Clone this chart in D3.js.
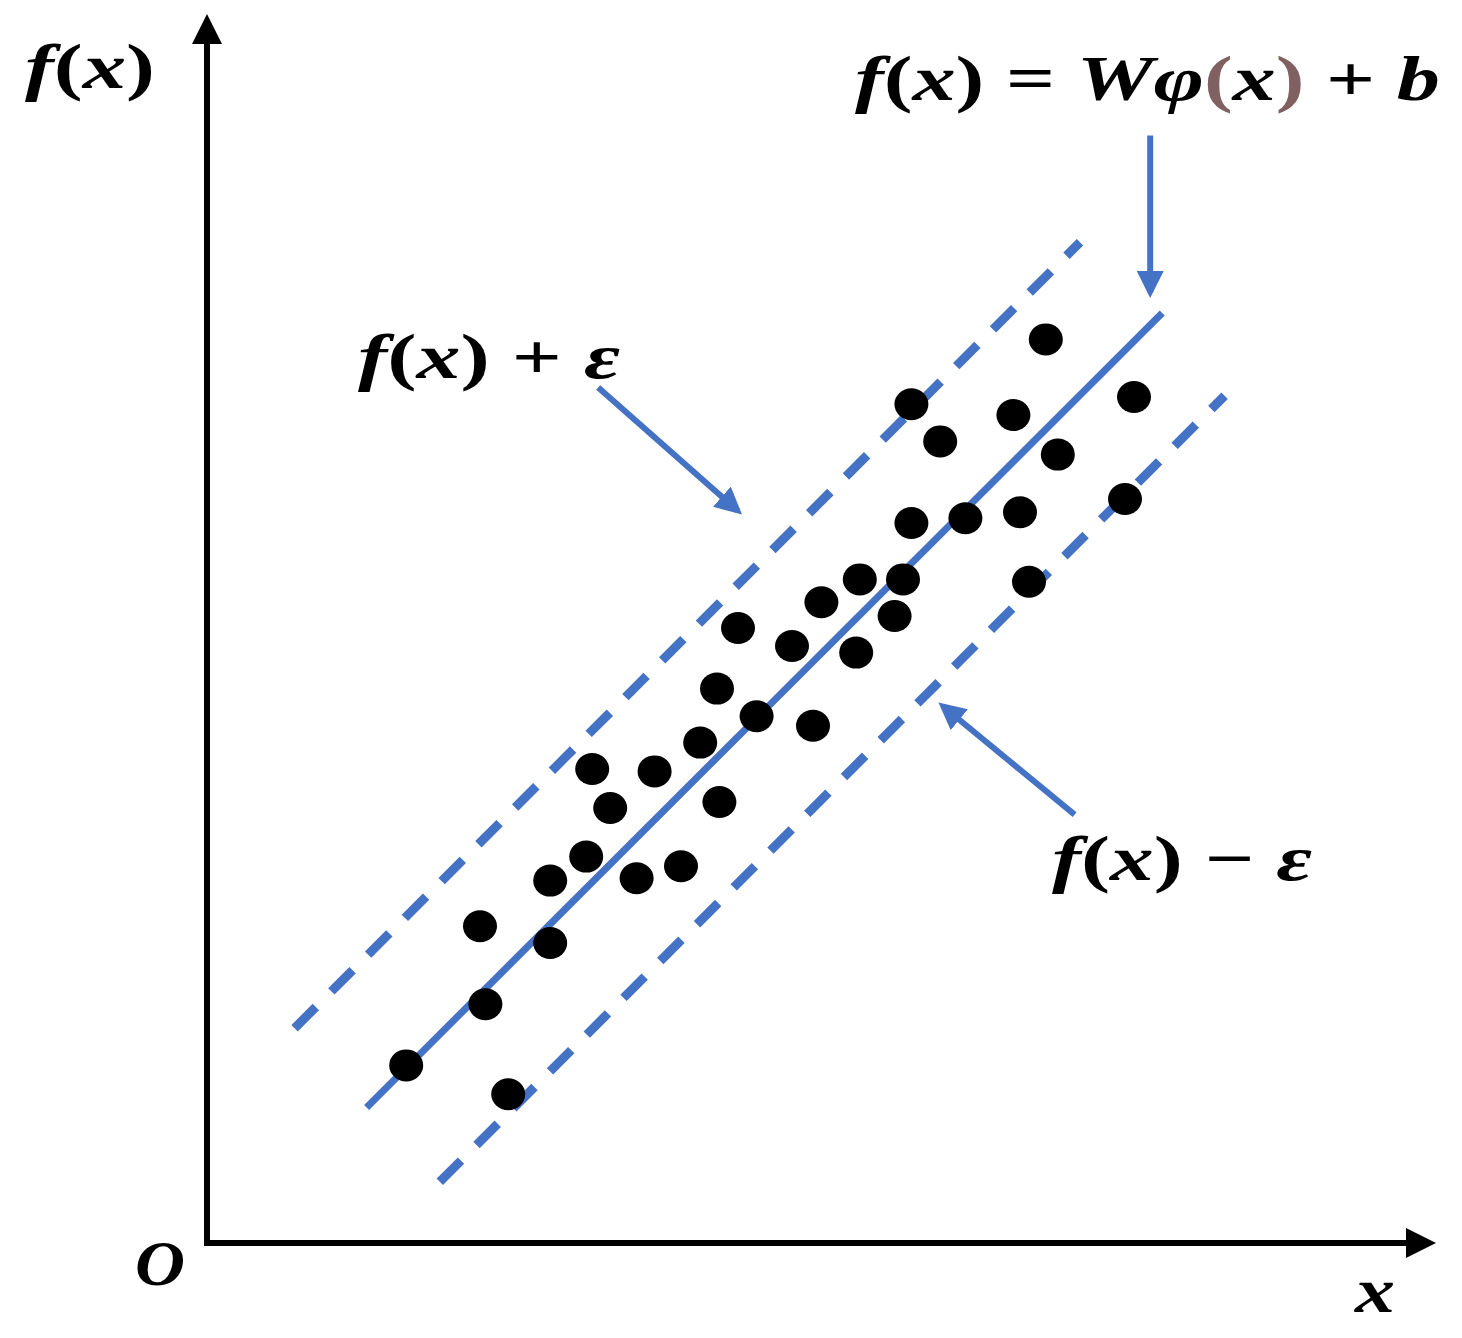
<!DOCTYPE html>
<html><head><meta charset="utf-8">
<script src="https://cdn.jsdelivr.net/npm/d3@7"></script>
<style>body{margin:0;background:#fff}</style></head>
<body><div id="chart"></div>
<script>
// sample points (data units 0..100)
const pointsX = [16.6,22.75,23.2,25.1,28.6,28.6,31.6,32.1,33.6,35.8,37.3,39.5,41.1,42.5,42.7,44.25,45.8,48.75,50.5,51.2,54.1,54.4,57.3,58,58.7,58.7,61.1,63.2,67.2,67.75,68.5,69.9,70.9,76.5,77.25];
const pointsY = [14.8,26.4,19.9,12.4,30.2,25,32.2,39.5,36.25,30.4,39.3,31.4,41.7,46.2,36.75,51.25,43.9,49.75,43.1,53.4,49.2,55.3,52.25,55.3,69.9,60,66.8,60.4,69,60.9,55.1,75.3,65.7,62,70.5];
const fitLine = [[13.3,11.3],[79.6,77.5]];
const upperLine = [[7.3,17.9],[72.75,83.4]];
const lowerLine = [[19.4,5.1],[84.8,70.6]];
const arrows = [[[78.6,92.3],[78.6,79.2]],[[32.6,71.3],[44.25,61]],[[72.3,35.7],[61.3,44.75]]];

const W = 1462, H = 1338, blue = '#4472C4';
const x = d3.scaleLinear().domain([0,100]).range([207,1407]);
const y = d3.scaleLinear().domain([0,100]).range([1243,43]);

const svg = d3.select('#chart').append('svg').attr('width',W).attr('height',H);
const defs = svg.append('defs');
defs.append('marker').attr('id','ah').attr('viewBox','0 0 10 10').attr('refX',8).attr('refY',5)
  .attr('markerWidth',4.5).attr('markerHeight',4.5).attr('orient','auto')
  .append('path').attr('d','M0,0L10,5L0,10z').attr('fill',blue);
defs.append('marker').attr('id','axh').attr('viewBox','0 0 10 10').attr('refX',2).attr('refY',5)
  .attr('markerWidth',5).attr('markerHeight',5).attr('orient','auto')
  .append('path').attr('d','M0,0L10,5L0,10z').attr('fill','#000');

// axes
svg.append('line').attr('x1',x(0)).attr('y1',y(0)+3).attr('x2',x(0)).attr('y2',38)
  .attr('stroke','#000').attr('stroke-width',6).attr('marker-end','url(#axh)');
svg.append('line').attr('x1',x(0)-3).attr('y1',y(0)).attr('x2',1412).attr('y2',y(0))
  .attr('stroke','#000').attr('stroke-width',6).attr('marker-end','url(#axh)');

const line = d3.line().x(d => x(d[0])).y(d => y(d[1]));
svg.append('path').attr('d',line(fitLine)).attr('stroke',blue).attr('stroke-width',7).attr('fill','none');
[upperLine, lowerLine].forEach(l => svg.append('path').attr('d',line(l)).attr('stroke',blue)
  .attr('stroke-width',9).attr('stroke-dasharray','30 22').attr('fill','none'));

arrows.forEach(a => svg.append('path').attr('d',line(a)).attr('stroke',blue).attr('stroke-width',6)
  .attr('fill','none').attr('marker-end','url(#ah)'));

svg.selectAll('ellipse.pt').data(pointsX).enter().append('ellipse').attr('class','pt')
  .attr('cx',d => x(d)).attr('cy',(d,i) => y(pointsY[i])).attr('rx',17).attr('ry',16).attr('fill','#000');

const font = "'Liberation Serif', 'DejaVu Serif', serif";
function label(px, py, len, parts){
  const t = svg.append('text').attr('x',px).attr('y',py).attr('font-family',font)
    .attr('font-size',64).attr('font-weight','bold').attr('font-style','italic')
    .attr('textLength',len).attr('lengthAdjust','spacingAndGlyphs');
  parts.forEach(p => t.append('tspan').text(p[0]).attr('fill',p[1]||'#000')
    .attr('font-style',p[2]||null));
}
label(25,88,130,[['f'],['(','#000','normal'],['x'],[')','#000','normal']]);
label(135,1285,50,[['O']]);
label(1355,1312,40,[['x']]);
label(855,100,585,[['f'],['(','#000','normal'],['x'],[')','#000','normal'],[' = ','#000','normal'],['W'],['φ'],['(','#806060','normal'],['x','#000'],[')','#806060','normal'],[' + ','#000','normal'],['b']]);
label(358,378,262,[['f'],['(','#000','normal'],['x'],[')','#000','normal'],[' + ','#000','normal'],['ε']]);
label(1052,880,260,[['f'],['(','#000','normal'],['x'],[')','#000','normal'],[' − ','#000','normal'],['ε']]);
</script></body></html>
